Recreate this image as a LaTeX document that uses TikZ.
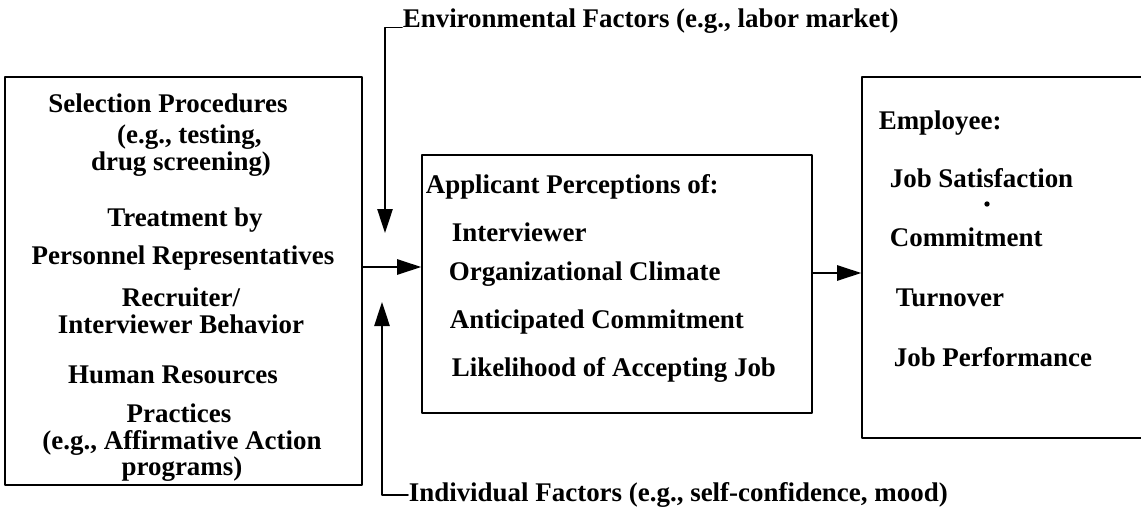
\documentclass[tikz,border=0pt]{standalone}
\usepackage{fontspec}
\setmainfont{Liberation Serif}
\usetikzlibrary{arrows.meta}

\tikzset{
  boxline/.style={draw,line width=1.4pt,inner sep=0pt},
  txt/.style={font=\bfseries,inner sep=0pt},
  twoline/.style={txt,align=center,font=\bfseries\fontsize{23pt}{23pt}\selectfont},
}

\begin{document}
\fontsize{23pt}{27pt}\selectfont
\begin{tikzpicture}[line cap=round,line join=round,x=0.03cm,y=-0.03cm,
    >={Triangle[length=0.72cm,width=0.46cm]},line width=1.4pt]
            \clip (0,0) rectangle (1141,531);
            \fill[white] (0,0) rectangle (1141,531);
            % the three boxes
            \node [boxline,minimum width=10.71cm,minimum height=12.24cm] (sel) at (183.5,281) {};
            \node [boxline,minimum width=11.7cm,minimum height=7.74cm] (perc) at (617,284) {};
            \node [boxline,minimum width=8.64cm,minimum height=10.83cm] (emp) at (1006,257.5) {};
            % left box
            \node [txt] (sel1) at (168,103) {Selection Procedures};
            \node [twoline] (sel2) at (181,151) {\hspace*{0.5cm}(e.g., testing,\\drug screening)};
            \node [txt] (sel4) at (185,220) {Treatment by};
            \node [txt] (sel5) at (183,258) {Personnel Representatives};
            \node [twoline] (sel6) at (181,311) {Recruiter/\\Interviewer Behavior};
            \node [txt] (sel8) at (173,375) {Human Resources};
            \node [txt] (sel9) at (179,413) {Practices};
            \node [twoline] (sel10) at (182,456) {(e.g., Affirmative Action\\programs)};
            % middle box
            \node [txt,anchor=west] (perc0) at (425,187) {Applicant Perceptions of:};
            \node [txt,anchor=west] (perc1) at (451,232) {Interviewer};
            \node [txt,anchor=west] (perc2) at (448,274) {Organizational Climate};
            \node [txt,anchor=west] (perc3) at (449,322) {Anticipated Commitment};
            \node [txt,anchor=west] (perc4) at (451,370) {Likelihood of Accepting Job};
            % right box
            \node [txt,anchor=west] (emp0) at (878,123) {Employee:};
            \node [txt,anchor=west] (emp1) at (889,178) {Job Satisfaction};
            \node [txt,anchor=west] (emp2) at (889,237) {Commitment};
            \node [txt,anchor=west] (emp3) at (895,298) {Turnover};
            \node [txt,anchor=west] (emp4) at (893,357) {Job Performance};
            \fill (987,204) circle (0.08cm);
            % outside factors
            \node [txt,anchor=west] (env) at (402,21) {Environmental Factors (e.g., labor market)};
            \node [txt,anchor=west] (ind) at (408,495) {Individual Factors (e.g., self-confidence, mood)};
            \coordinate (envtip) at (385,233);
            \coordinate (indtip) at (382,302);
            \draw [->] ([yshift=-0.2cm]env.west) -| (envtip);
            \draw [->] (ind.west) -| (indtip);
            % flow between boxes
            \draw [->] (sel.east |- 0,267) -- (perc.west |- 0,267);
            \draw [->] (perc.east |- 0,273) -- (emp.west |- 0,273);
\end{tikzpicture}
\end{document}
